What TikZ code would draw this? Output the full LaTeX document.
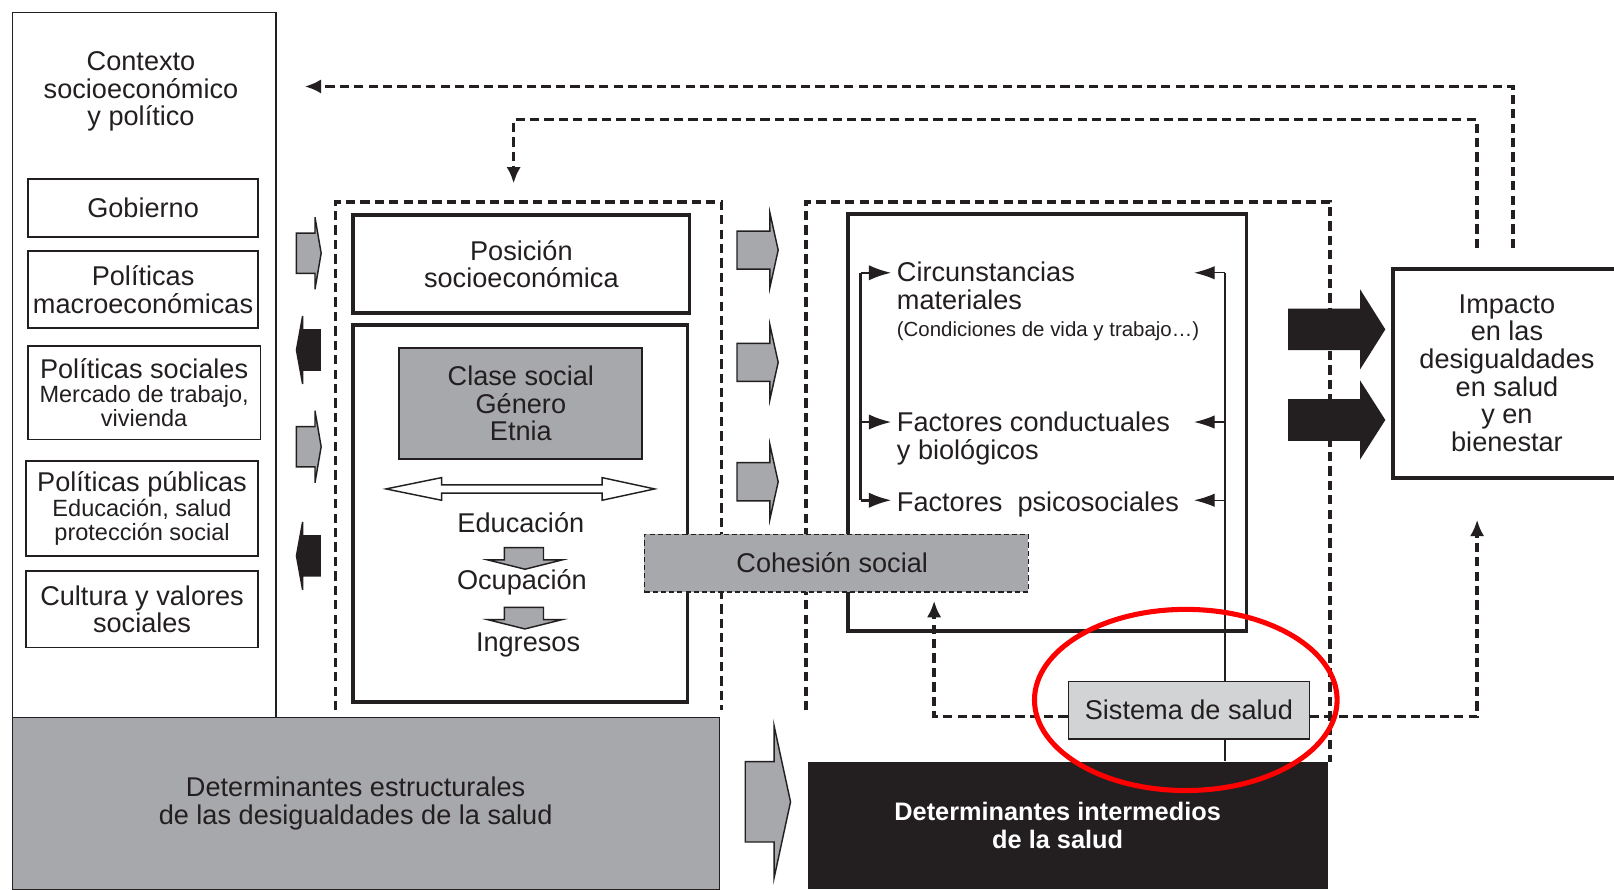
\documentclass[tikz,border=0pt]{standalone}
\usepackage{fontspec}
\setmainfont{Liberation Sans}
\usetikzlibrary{arrows.meta}

\definecolor{ink}{HTML}{231F20}
\definecolor{midgray}{HTML}{A7A8AB}
\definecolor{palegray}{HTML}{D1D3D4}

\newcommand{\smalltxt}{\fontsize{13}{13.5}\selectfont}
\newcommand{\tinytxt}{\fontsize{11.3}{12}\selectfont}

% block arrow: x0, y, body length, head length, half body, half head, style
\newcommand{\blockarr}[7]{%
  \draw[#7] (#1,{#2-#5}) -- ++(#3,0) -- ++(0,{#5-#6}) -- ({#1+#3+#4},#2)
    -- ({#1+#3},{#2+#6}) -- ++(0,{#5-#6}) -- (#1,{#2+#5}) -- cycle;}

\begin{document}
\begin{tikzpicture}[x=0.2mm,y=-0.2mm,
  txt/.style={align=center, inner sep=0pt, text=ink, font=\fontsize{15}{15.3}\selectfont},
  thinbox/.style={txt, draw=ink, line width=1pt},
  thickbox/.style={draw=ink, line width=2pt, inner sep=0pt},
  frame/.style={draw=ink, line width=2pt, dash pattern=on 1.8mm off 1mm},
  dasharr/.style={frame, -{Latex[length=3.2mm,width=2.8mm]}},
  grayarr/.style={fill=midgray, draw=ink, line width=0.8pt},
  blackarr/.style={fill=ink, draw=ink, line width=0.8pt},
  lbus/.style={draw=ink, line width=1.4pt},
  rbus/.style={draw=ink, line width=0.7pt}]

  \path[use as bounding box, fill=white] (0,0) rectangle (1568,864);

  % Contexto socioeconomico y politico
  \node[thinbox, line width=0.8pt, minimum width=51.2mm, minimum height=137mm] (ctx) at (140,354.5) {};
  \node[txt] (ctxlabel) at (137,89) {Contexto\\socioeconómico\\y político};
  \node[thinbox, minimum width=44.8mm, minimum height=11.2mm] (gob) at (139,202) {Gobierno};
  \node[thinbox, minimum width=44.8mm, minimum height=15mm] (pmacro) at (139,281.5) {Políticas\\macroeconómicas};
  \node[thinbox, font=\fontsize{15}{13.5}\selectfont, minimum width=45.2mm, minimum height=18.2mm] (psoc) at (140,381.5)
    {Políticas sociales\\{\smalltxt Mercado de trabajo,}\\{\smalltxt vivienda}};
  \node[thinbox, font=\fontsize{15}{13.5}\selectfont, minimum width=45.2mm, minimum height=18.4mm] (ppub) at (138,494)
    {Políticas públicas\\{\smalltxt Educación, salud}\\{\smalltxt protección social}};
  \node[thinbox, minimum width=45.2mm, minimum height=14.8mm] (cult) at (138,592) {Cultura y valores\\sociales};

  % Dashed frames
  \draw[frame] (326,690) |- (701,196) -- (701,690);
  \draw[frame] (783,690) |- (1292,196) -- (1292,740);

  % Bottom bands
  \node[txt, fill=midgray, draw=ink, line width=0.8pt, minimum width=137.4mm, minimum height=33.4mm] (estr) at (355.5,780.5)
    {Determinantes estructurales\hspace*{4mm}\\de las desigualdades de la salud\hspace*{4mm}};
  \node[txt, fill=ink, text=white, font=\bfseries\fontsize{14}{15.3}\selectfont, minimum width=101mm, minimum height=24.8mm] (dint) at (1037.5,802)
    {Determinantes intermedios\hspace*{4mm}\\de la salud\hspace*{4mm}};

  % Socioeconomic position
  \node[thickbox, txt, minimum width=65.4mm, minimum height=19mm] (pos) at (506.5,256.5) {Posición\\socioeconómica};
  \node[thickbox, minimum width=65mm, minimum height=73.2mm] (strat) at (505.5,499) {};
  \node[thinbox, fill=midgray, minimum width=47.2mm, minimum height=21.6mm] (clase) at (506,392) {Clase social\\Género\\Etnia};
  \draw[fill=white, draw=ink, line width=0.8pt] (375,475) -- (429,464) -- (429,471) -- (585,471) -- (585,464)
    -- (636,475) -- (585,486) -- (585,479) -- (429,479) -- (429,486) -- cycle;
  \node[txt] (edu) at (506,508) {Educación};
  \node[txt] (ocu) at (507,566) {Ocupación};
  \node[txt] (ing) at (513,627) {Ingresos};
  \draw[grayarr] (490,532) -- (528,532) -- (528,544) -- (546,544) -- (510,553) -- (474,544) -- (490,544) -- cycle;
  \draw[grayarr] (490,590) -- (528,590) -- (528,602) -- (546,602) -- (510,611) -- (474,602) -- (490,602) -- cycle;

  % Intermediate factors
  \node[thickbox, minimum width=77.4mm, minimum height=81mm] (circbox) at (1017.5,410.5) {};
  \node[txt, align=left, anchor=north west] (circ) at (871,254)
    {Circunstancias\\materiales\\{\tinytxt (Condiciones de vida y trabajo…)}};
  \node[txt, align=left, anchor=north west] (conduc) at (871,400) {Factores conductuales\\y biológicos};
  \node[txt, align=left, anchor=north west] (psico) at (871,477) {Factores~~psicosociales};

  \coordinate (lb) at (836,0);
  \coordinate (rb) at (1190,0);
  \coordinate (rt) at (1160,0);
  \coordinate (ca) at ([xshift=-1mm,yshift=-2.2mm]circ.north west);
  \coordinate (fa) at ([xshift=-1mm,yshift=-2mm]conduc.north west);
  \coordinate (pa) at ([xshift=-1mm,yshift=-1.8mm]psico.north west);
  \draw[lbus] (ca -| lb) -- (pa -| lb);
  \foreach \p in {ca,fa,pa}
    \draw[lbus, -{Latex[length=4.4mm,width=3mm]}] (\p -| lb) -- (\p);
  \draw[rbus] (ca -| rb) -- (dint.north -| rb);
  \foreach \p in {ca,fa,pa}
    \draw[rbus, -{Latex[length=4mm,width=2.6mm]}] (\p -| rb) -- (\p -| rt);

  % Cohesion and health system
  \node[txt, fill=midgray, draw=ink, line width=0.8pt, dash pattern=on 1mm off 0.6mm,
    minimum width=74.6mm, minimum height=11.2mm] (coh) at (812.5,547) {Cohesión social\hspace*{1.6mm}};
  \node[thinbox, fill=palegray, line width=0.8pt, minimum width=46.8mm, minimum height=11.2mm] (salud) at (1155,690) {Sistema de salud};

  % Impact
  \node[thickbox, txt, line width=2.2pt, minimum width=44.4mm, minimum height=40.6mm] (imp) at (1464,362.5)
    {Impacto\\en las\\desigualdades\\en salud\\y en\\bienestar};

  % Feedback loops
  \coordinate (ctxin) at (296,84);
  \coordinate (cohin) at ([xshift=19mm,yshift=-1.6mm]coh.south);
  \coordinate (impin) at ([xshift=-5.8mm,yshift=-7.8mm]imp.south);
  \draw[dasharr] ([yshift=-1.2mm]salud.west) -| (cohin);
  \draw[dasharr] ([yshift=-1.2mm]salud.east) -| (impin);
  \draw[dasharr] ([xshift=1.2mm,yshift=3.6mm]imp.north) |- (ctxin);
  \draw[dasharr] ([xshift=-5.8mm,yshift=3.6mm]imp.north) |- ([xshift=-1.5mm,yshift=18.2mm]pos.north)
    -- ([xshift=-1.5mm,yshift=5.8mm]pos.north);

  % Block arrows
  \blockarr{288}{246}{18}{6}{19.5}{35}{grayarr}
  \blockarr{311}{340}{-17}{-6}{19.5}{33}{blackarr}
  \blockarr{288}{434}{18}{6}{19.5}{35}{grayarr}
  \blockarr{311}{540}{-17}{-6}{19.5}{33}{blackarr}
  \blockarr{716}{243}{32}{8}{18.5}{36}{grayarr}
  \blockarr{716}{352}{32}{8}{18.5}{36}{grayarr}
  \blockarr{716}{468}{32}{8}{18.5}{36}{grayarr}
  \blockarr{724}{779}{28}{16}{39}{74}{grayarr}
  \blockarr{1252}{320}{70}{23}{19.5}{36.5}{blackarr}
  \blockarr{1252}{408}{70}{23}{19.5}{36}{blackarr}

  % Highlight
  \draw[red, line width=2.8pt] (1152,680) ellipse [x radius=29.4mm, y radius=17.6mm];
\end{tikzpicture}
\end{document}
